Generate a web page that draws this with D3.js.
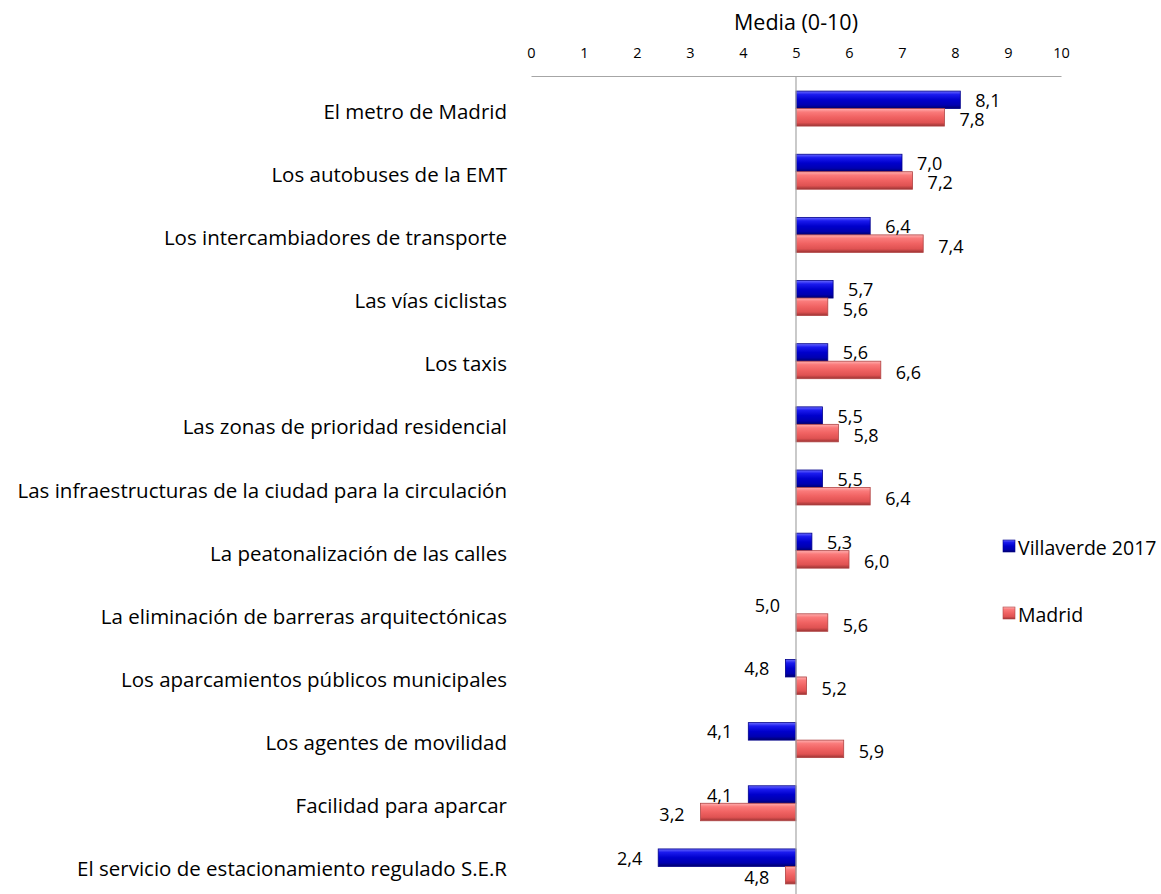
<!DOCTYPE html>
<html>
<head>
<meta charset="utf-8">
<script src="https://cdn.jsdelivr.net/npm/d3@7"></script>
<style>
  body { margin: 0; background: #fff; }
  text { font-family: "Open Sans", sans-serif; fill: #000; }
</style>
</head>
<body>
<svg id="chart"></svg>
<script>
var width = 1161,
    height = 894;

// data
var categories = [
  "El metro de Madrid",
  "Los autobuses de la EMT",
  "Los intercambiadores de transporte",
  "Las vías ciclistas",
  "Los taxis",
  "Las zonas de prioridad residencial",
  "Las infraestructuras de la ciudad para la circulación",
  "La peatonalización de las calles",
  "La eliminación de barreras arquitectónicas",
  "Los aparcamientos públicos municipales",
  "Los agentes de movilidad",
  "Facilidad para aparcar",
  "El servicio de estacionamiento regulado S.E.R"
];
var villaverde = [8.1, 7.0, 6.4, 5.7, 5.6, 5.5, 5.5, 5.3, 5.0, 4.8, 4.1, 4.1, 2.4];
var madrid = [7.8, 7.2, 7.4, 5.6, 6.6, 5.8, 6.4, 6.0, 5.6, 5.2, 5.9, 3.2, 4.8];
var seriesNames = ["Villaverde 2017", "Madrid"];
var ticks = [0, 1, 2, 3, 4, 5, 6, 7, 8, 9, 10];
var baseline = 5;

var rows = categories.map((c, i) => ({cat: c, values: [villaverde[i], madrid[i]]}));

var svg = d3.select("#chart")
    .attr("width", width)
    .attr("height", height);

// gradients for the bevelled bars
var defs = svg.append("defs");
var grads = [
  {id: "gBlue", stops: ["#6a6aff", "#1a1aee", "#0000cc", "#0000b0", "#00006a"]},
  {id: "gRed", stops: ["#ffb0b0", "#fa7a7a", "#f06262", "#df5252", "#9c3434"]}
];
grads.forEach(g => {
  var lg = defs.append("linearGradient")
      .attr("id", g.id)
      .attr("x1", 0).attr("y1", 0).attr("x2", 0).attr("y2", 1);
  [0, 0.2, 0.5, 0.8, 1].forEach((o, i) => {
    lg.append("stop").attr("offset", o).attr("stop-color", g.stops[i]);
  });
});
var strokes = ["#00008a", "#b04444"];

// Scales
var x = d3.scaleLinear()
    .domain([0, 10])
    .range([531, 1061]);

var y = d3.scaleBand()
    .domain(categories)
    .range([77, 898])
    .paddingInner(0.446)
    .paddingOuter(0.223);

var ySub = d3.scaleBand()
    .domain([0, 1])
    .range([0, y.bandwidth()]);

// Title
svg.append("text")
    .attr("x", x(baseline))
    .attr("y", 21)
    .attr("text-anchor", "middle")
    .attr("dominant-baseline", "central")
    .style("font-size", "21.5px")
    .text("Media (0-10)");

// Top axis
var xAxis = d3.axisTop(x)
    .tickValues(ticks)
    .tickSize(0)
    .tickPadding(18)
    .tickFormat(d3.format("d"));

var ax = svg.append("g")
    .attr("transform", "translate(0,76)")
    .call(xAxis);
ax.select(".domain").attr("stroke", "#a6a6a6").attr("stroke-width", 1.2);
ax.selectAll("text")
    .style("font-family", "Open Sans, sans-serif")
    .style("font-size", "14.5px")
    .attr("fill", "#000");

// Bars
var group = svg.append("g").selectAll("g")
    .data(rows)
  .enter().append("g")
    .attr("transform", d => `translate(0,${y(d.cat)})`);

group.selectAll("rect")
    .data(d => d.values.map((v, i) => ({v: v, i: i})))
  .enter().append("rect")
    .attr("x", d => Math.min(x(d.v), x(baseline)))
    .attr("y", d => ySub(d.i))
    .attr("width", d => Math.abs(x(d.v) - x(baseline)))
    .attr("height", ySub.bandwidth())
    .attr("fill", d => `url(#${grads[d.i].id})`)
    .attr("stroke", d => strokes[d.i])
    .attr("stroke-width", 0.8);

// Value labels
var fmt = v => d3.format(".1f")(v).replace(".", ",");
group.selectAll("text.val")
    .data(d => d.values.map((v, i) => ({v: v, i: i})))
  .enter().append("text")
    .attr("class", "val")
    .attr("x", d => d.v > baseline ? x(d.v) + 15 : x(d.v) - 16)
    .attr("y", d => ySub(d.i) + ySub.bandwidth() / 2 + (d.i ? 2 : 0))
    .attr("text-anchor", d => d.v > baseline ? "start" : "end")
    .attr("dominant-baseline", "central")
    .style("font-size", "18px")
    .text(d => fmt(d.v));

// Vertical baseline
svg.append("line")
    .attr("x1", x(baseline)).attr("x2", x(baseline))
    .attr("y1", 76).attr("y2", height)
    .attr("stroke", "#a6a6a6")
    .attr("stroke-width", 1.2);

// Category labels
svg.append("g").selectAll("text")
    .data(categories)
  .enter().append("text")
    .attr("x", 507)
    .attr("y", d => y(d) + y.bandwidth() / 2 + 2)
    .attr("text-anchor", "end")
    .attr("dominant-baseline", "central")
    .style("font-size", "20.5px")
    .text(d => d);

// Legend
var legend = svg.append("g").selectAll("g")
    .data(seriesNames)
  .enter().append("g")
    .attr("transform", (d, i) => `translate(1003,${546 + i * 67})`);

legend.append("rect")
    .attr("x", 0).attr("y", -6)
    .attr("width", 12).attr("height", 12)
    .attr("fill", (d, i) => `url(#${grads[i].id})`)
    .attr("stroke", (d, i) => strokes[i])
    .attr("stroke-width", 0.6);

legend.append("text")
    .attr("x", 15)
    .attr("y", 1)
    .attr("dominant-baseline", "central")
    .style("font-size", "19.5px")
    .text(d => d);
</script>
</body>
</html>
